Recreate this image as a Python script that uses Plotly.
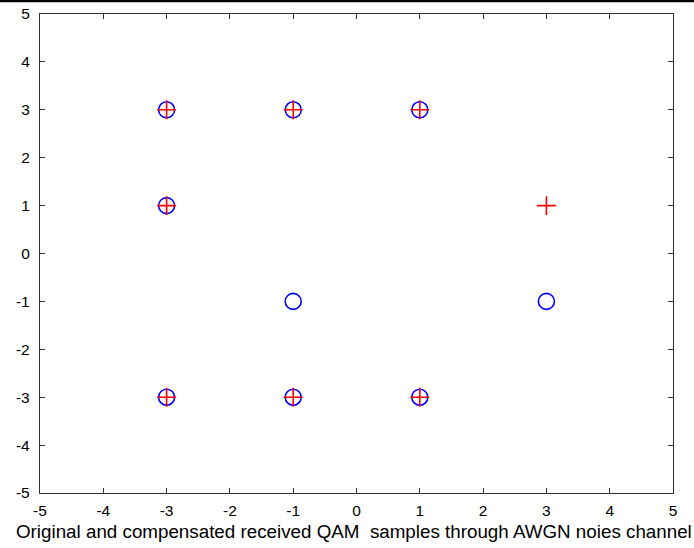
import plotly.graph_objects as go

# Original transmitted 16-QAM symbols (blue circles)
orig_i = [-3, -1, 1, -3, -1, 3, -3, -1, 1]
orig_q = [3, 3, 3, 1, -1, -1, -3, -3, -3]

# Compensated received samples (red pluses)
comp_i = [-3, -1, 1, -3, 3, -3, -1, 1]
comp_q = [3, 3, 3, 1, 1, -3, -3, -3]

tick_vals = [-5, -4, -3, -2, -1, 0, 1, 2, 3, 4, 5]

W, H = 694, 548
L, R, T, B = 40, 21, 14, 55

fig = go.Figure()
fig.add_trace(go.Scatter(
    x=orig_i, y=orig_q, mode="markers", name="original",
    marker=dict(symbol="circle-open", size=16, color="#0000ff",
                line=dict(width=1.6, color="#0000ff")),
))
fig.add_trace(go.Scatter(
    x=comp_i, y=comp_q, mode="markers", name="compensated",
    marker=dict(symbol="cross-thin-open", size=13.5, color="#ff0000",
                line=dict(width=1.6, color="#ff0000")),
))

axis_common = dict(
    range=[-5, 5], tickvals=tick_vals, ticktext=[str(v) for v in tick_vals],
    ticks="inside", ticklen=5, tickwidth=1.3, tickcolor="#333333",
    showline=True, linecolor="#333333", linewidth=1.3, mirror="ticks",
    showgrid=False, zeroline=False, automargin=False,
    tickfont=dict(family="Liberation Sans, Arial", size=15.5, color="#000000"),
)

fig.update_layout(
    width=W, height=H,
    margin=dict(l=L, r=R, t=T, b=B, autoexpand=False),
    paper_bgcolor="white", plot_bgcolor="white",
    showlegend=False,
    xaxis=dict(**axis_common, ticklabelstandoff=3),
    yaxis=dict(**axis_common, ticklabelstandoff=6),
    annotations=[dict(
        text="Original and compensated received QAM  samples through AWGN noies channel",
        xref="paper", yref="paper", x=(14 - L) / (W - L - R), y=-38 / (H - T - B),
        xanchor="left", yanchor="middle", showarrow=False,
        font=dict(family="Liberation Sans, Arial", size=18.8, color="#000000"),
    )],
    shapes=[dict(type="line", xref="paper", yref="paper",
                 x0=-L / (W - L - R), x1=(W - L) / (W - L - R),
                 y0=1 + (T - 1) / (H - T - B), y1=1 + (T - 1) / (H - T - B),
                 line=dict(color="black", width=2.5))],
)

fig.write_html("out.html")
